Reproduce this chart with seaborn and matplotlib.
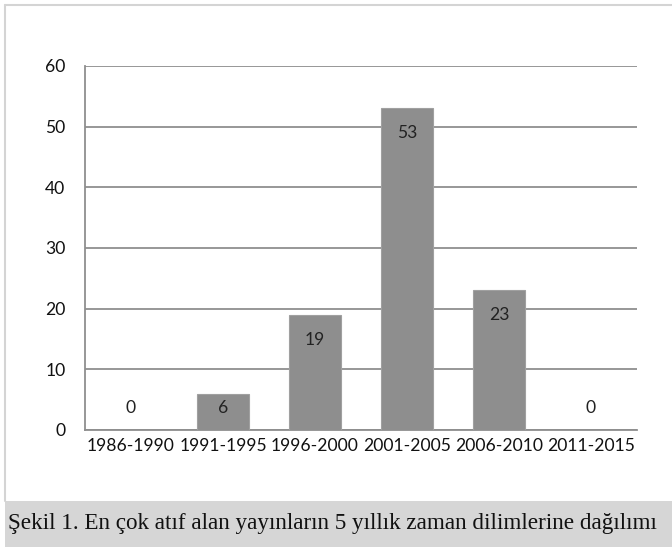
import seaborn as sns
import matplotlib.pyplot as plt
import pandas as pd

periods = ['1986-1990', '1991-1995', '1996-2000', '2001-2005', '2006-2010', '2011-2015']
counts = [0, 6, 19, 53, 23, 0]
y_ticks = [0, 10, 20, 30, 40, 50, 60]
caption = 'Şekil 1. En çok atıf alan yayınların 5 yıllık zaman dilimlerine dağılımı'

df = pd.DataFrame({'period': periods, 'count': counts})

sns.set_style('white')
plt.rcParams['font.family'] = ['Lato', 'DejaVu Sans']

fig = plt.figure(figsize=(6.72, 5.47), dpi=100)

# outer frame and caption band
fig.add_artist(plt.Line2D([5 / 672, 5 / 672], [46 / 547, 542 / 547], color='#d4d4d4', lw=1.5))
fig.add_artist(plt.Line2D([5 / 672, 1], [542 / 547, 542 / 547], color='#d4d4d4', lw=1.5))
fig.add_artist(plt.Rectangle((5 / 672, 0), 1, 46 / 547, color='#d6d6d6', lw=0))
fig.text(8 / 672, 23 / 547, caption, family='Liberation Serif', fontsize=16.7,
         va='center', ha='left', color='#111111')

ax = fig.add_axes([85 / 672, 117 / 547, 552 / 672, 364 / 547])
sns.barplot(data=df, x='period', y='count', color='#8e8e8e', saturation=1,
            width=0.565, edgecolor='#a0a0a0', linewidth=0.8, ax=ax, zorder=3)

ax.set_ylim(0, 60)
ax.set_xlim(-0.5, len(periods) - 0.5)
ax.set_yticks(y_ticks)
ax.yaxis.grid(True, color='#8f8f8f', lw=1.3, zorder=0)
ax.set_axisbelow(True)
for s in ['top', 'right']:
    ax.spines[s].set_visible(False)
for s in ['left', 'bottom']:
    ax.spines[s].set_color('#8f8f8f')
    ax.spines[s].set_linewidth(1.3)
ax.set_xlabel('')
ax.set_ylabel('')
ax.tick_params(axis='both', length=0, labelsize=12.6, labelcolor='#111111')
ax.tick_params(axis='y', pad=14)
ax.tick_params(axis='x', pad=6)

for i, v in enumerate(counts):
    ax.text(i, max(v - 4.1, 3.6), str(v), ha='center', va='center',
            fontsize=12.6, color='#222222', zorder=4)

plt.savefig('out.png', dpi=100)
